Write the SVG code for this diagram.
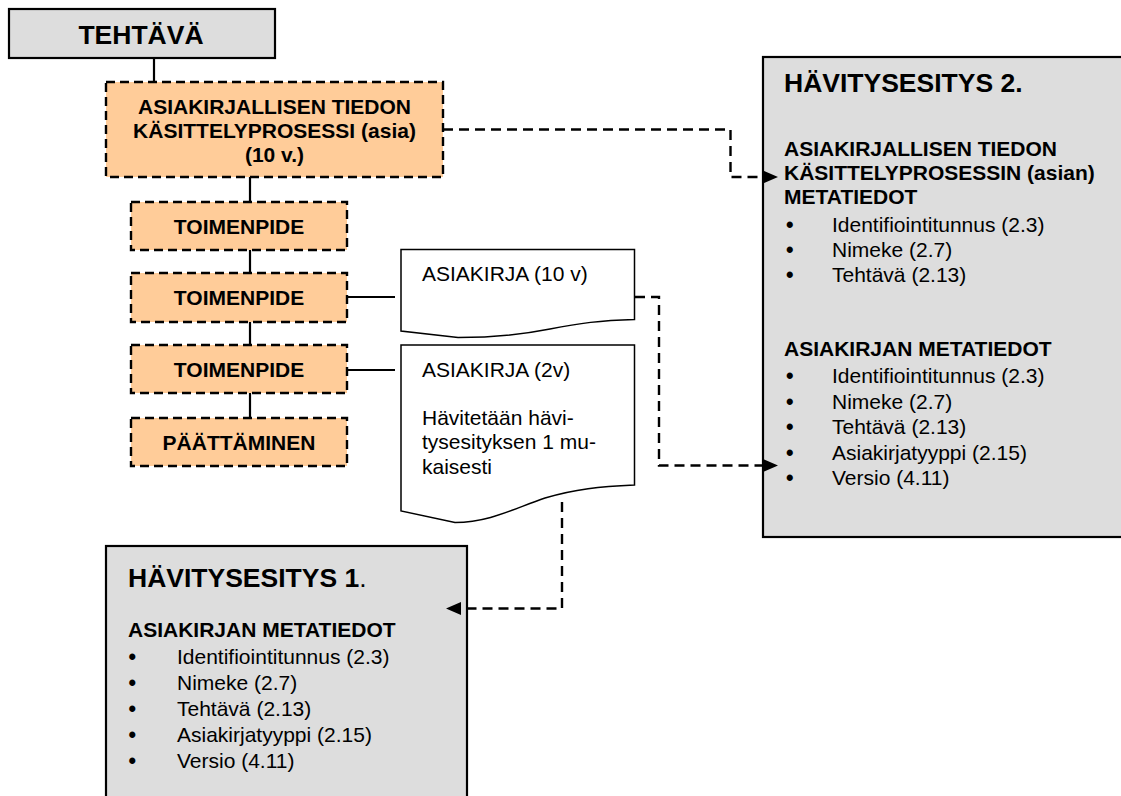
<svg xmlns="http://www.w3.org/2000/svg" width="1121" height="796" viewBox="0 0 1121 796">
<style>
text{font-family:"Liberation Sans",Arial,sans-serif;fill:#000}
.b{font-weight:bold;font-size:21px}
.r{font-size:21px}
.h{font-weight:bold;font-size:26.5px}
.c{text-anchor:middle}
.bu{font-size:21.5px;font-weight:bold}
.gray{fill:#dddddd;stroke:#000;stroke-width:2.2}
.proc{fill:#ffcc99;stroke:#000;stroke-width:2.4;stroke-dasharray:9 5}
.doc{fill:#fff;stroke:#000;stroke-width:1.5}
.solid{fill:none;stroke:#000;stroke-width:2.2}
.dash{fill:none;stroke:#000;stroke-width:2.4;stroke-dasharray:10 6}
</style>
<defs>
<marker id="arr" markerUnits="userSpaceOnUse" viewBox="0 0 15 13" refX="0" refY="6.5" markerWidth="15" markerHeight="13" orient="auto">
<path d="M0,0 L15,6.5 L0,13 Z" fill="#000"/>
</marker>
</defs>
<rect width="1121" height="796" fill="#fff"/>

<g id="havitysesitys2">
<rect class="gray" x="763" y="57" width="380" height="480"/>
<text class="h" x="784" y="92">HÄVITYSESITYS 2.</text>
<text class="b" x="784" y="156">ASIAKIRJALLISEN TIEDON</text>
<text class="b" x="784" y="180">KÄSITTELYPROSESSIN (asian)</text>
<text class="b" x="784" y="204">METATIEDOT</text>
<text class="bu" x="786" y="231.5">•</text><text class="r" x="832" y="231.5">Identifiointitunnus (2.3)</text>
<text class="bu" x="786" y="256.5">•</text><text class="r" x="832" y="256.5">Nimeke (2.7)</text>
<text class="bu" x="786" y="281.5">•</text><text class="r" x="832" y="281.5">Tehtävä (2.13)</text>
<text class="b" x="784" y="356">ASIAKIRJAN METATIEDOT</text>
<text class="bu" x="786" y="383">•</text><text class="r" x="832" y="383">Identifiointitunnus (2.3)</text>
<text class="bu" x="786" y="408.5">•</text><text class="r" x="832" y="408.5">Nimeke (2.7)</text>
<text class="bu" x="786" y="434">•</text><text class="r" x="832" y="434">Tehtävä (2.13)</text>
<text class="bu" x="786" y="459.5">•</text><text class="r" x="832" y="459.5">Asiakirjatyyppi (2.15)</text>
<text class="bu" x="786" y="485">•</text><text class="r" x="832" y="485">Versio (4.11)</text>
</g>

<g id="havitysesitys1">
<rect class="gray" x="106" y="546" width="361" height="270"/>
<text x="128" y="587"><tspan class="h">HÄVITYSESITYS 1</tspan><tspan style="font-size:26.5px">.</tspan></text>
<text class="b" x="128" y="637">ASIAKIRJAN METATIEDOT</text>
<text class="bu" x="128.5" y="664">•</text><text class="r" x="177" y="664">Identifiointitunnus (2.3)</text>
<text class="bu" x="128.5" y="690">•</text><text class="r" x="177" y="690">Nimeke (2.7)</text>
<text class="bu" x="128.5" y="716">•</text><text class="r" x="177" y="716">Tehtävä (2.13)</text>
<text class="bu" x="128.5" y="742">•</text><text class="r" x="177" y="742">Asiakirjatyyppi (2.15)</text>
<text class="bu" x="128.5" y="768">•</text><text class="r" x="177" y="768">Versio (4.11)</text>
</g>

<g id="connectors">
<line class="solid" x1="154" y1="58" x2="154" y2="82"/>
<line class="solid" x1="250" y1="177" x2="250" y2="202"/>
<line class="solid" x1="250" y1="250" x2="250" y2="273"/>
<line class="solid" x1="250" y1="322" x2="250" y2="345"/>
<line class="solid" x1="250" y1="393" x2="250" y2="418"/>
<line class="solid" x1="347" y1="297" x2="395" y2="297"/>
<line class="solid" x1="347" y1="370" x2="395" y2="370"/>
<path class="dash" d="M443,129.5 H730.5 V177 H763" marker-end="url(#arr)"/>
<path class="dash" d="M635,297 H659 V465.5 H763" marker-end="url(#arr)"/>
<path class="dash" d="M562,502 V608.5 H461" marker-end="url(#arr)"/>
</g>

<g id="tehtava">
<rect class="gray" x="9" y="9" width="266" height="49"/>
<text class="h c" x="141" y="44">TEHTÄVÄ</text>
</g>

<g id="asia">
<rect class="proc" x="106" y="82" width="337" height="95"/>
<text class="b c" x="274.5" y="113.5">ASIAKIRJALLISEN TIEDON</text>
<text class="b c" x="274.5" y="137.5">KÄSITTELYPROSESSI (asia)</text>
<text class="b c" x="274.5" y="161.5">(10 v.)</text>
</g>

<g id="toimenpide1">
<rect class="proc" x="131" y="202" width="216" height="48"/>
<text class="b c" x="239" y="233.5">TOIMENPIDE</text>
</g>
<g id="toimenpide2">
<rect class="proc" x="131" y="273" width="216" height="49"/>
<text class="b c" x="239" y="305">TOIMENPIDE</text>
</g>
<g id="toimenpide3">
<rect class="proc" x="131" y="345" width="216" height="48"/>
<text class="b c" x="239" y="376.5">TOIMENPIDE</text>
</g>
<g id="paattaminen">
<rect class="proc" x="131" y="418" width="216" height="48"/>
<text class="b c" x="239" y="449.5">PÄÄTTÄMINEN</text>
</g>

<g id="asiakirja10">
<path class="doc" d="M401,249.5 H634.5 V319.5 C600,320.5 580,323 550,329 C520,335 490,337.5 458,337.5 L401,331 Z"/>
<text class="r" x="422" y="281">ASIAKIRJA (10 v)</text>
</g>

<g id="asiakirja2">
<path class="doc" d="M401,345 H634.5 V485 C600,486.5 575,489 545,498 C515,508 490,522.5 455,522.5 L401,511 Z"/>
<text class="r" x="422" y="377">ASIAKIRJA (2v)</text>
<text class="r" x="422" y="425">Hävitetään hävi-</text>
<text class="r" x="422" y="449">tysesityksen 1 mu-</text>
<text class="r" x="422" y="473.5">kaisesti</text>
</g>
</svg>
